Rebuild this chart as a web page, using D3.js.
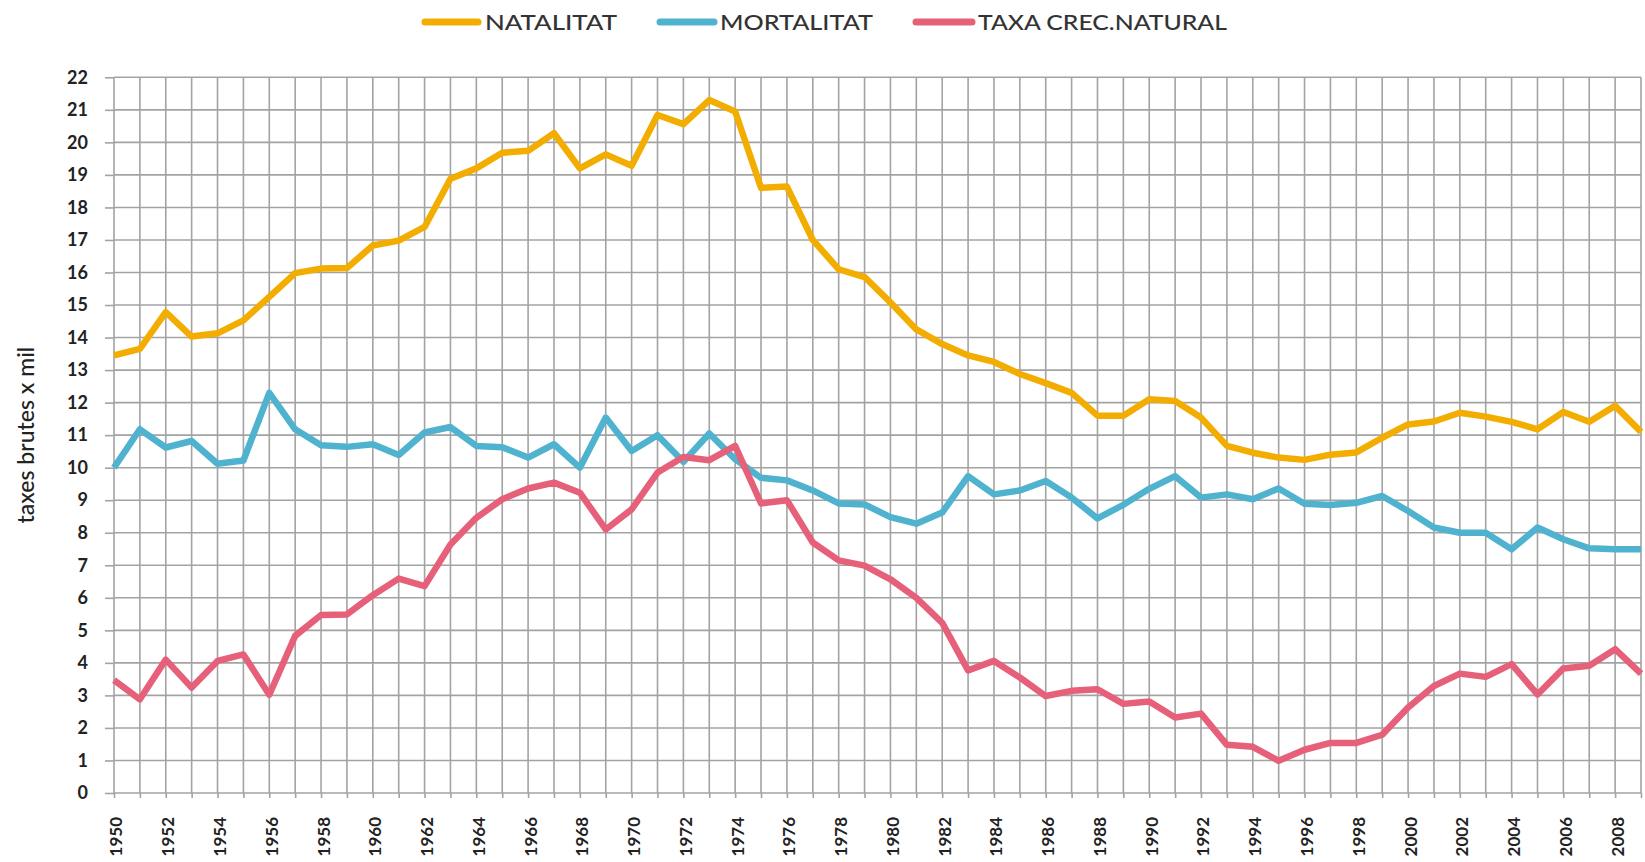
<!DOCTYPE html>
<html>
<head>
<meta charset="utf-8">
<script src="https://cdn.jsdelivr.net/npm/d3@7"></script>
<style>
  html, body { margin: 0; padding: 0; background: #fff; }
  svg { display: block; }
  text { font-family: Lato, "Open Sans", sans-serif; }
</style>
</head>
<body>
<script>
// ---------- DATA ----------
const years = d3.range(1950, 2010);
const seriesNames = ["NATALITAT", "MORTALITAT", "TAXA CREC.NATURAL"];
const natalitat = [13.45,13.65,14.78,14.03,14.13,14.53,15.25,15.98,16.12,16.14,
  16.83,16.98,17.4,18.88,19.2,19.68,19.74,20.28,19.2,19.63,
  19.28,20.84,20.56,21.3,20.95,18.6,18.64,17.0,16.1,15.86,
  15.08,14.25,13.8,13.45,13.25,12.88,12.6,12.3,11.6,11.6,
  12.1,12.05,11.54,10.67,10.46,10.31,10.24,10.4,10.47,10.92,
  11.33,11.42,11.69,11.57,11.41,11.18,11.71,11.41,11.9,11.1];
const mortalitat = [10.0,11.18,10.62,10.82,10.12,10.22,12.3,11.18,10.69,10.64,
  10.72,10.39,11.08,11.25,10.67,10.63,10.31,10.72,10.0,11.54,
  10.51,11.0,10.18,11.05,10.26,9.69,9.61,9.3,8.9,8.87,
  8.48,8.28,8.62,9.74,9.18,9.3,9.59,9.08,8.44,8.86,
  9.35,9.74,9.08,9.18,9.03,9.36,8.89,8.85,8.92,9.13,
  8.67,8.16,8.0,8.0,7.49,8.16,7.8,7.52,7.49,7.49];
const taxaCrec = [3.47,2.88,4.1,3.24,4.06,4.26,3.02,4.83,5.47,5.49,
  6.08,6.59,6.36,7.64,8.46,9.03,9.36,9.54,9.23,8.1,
  8.72,9.85,10.33,10.23,10.67,8.9,9.0,7.7,7.15,6.99,
  6.57,6.0,5.23,3.77,4.06,3.55,2.98,3.14,3.19,2.74,
  2.81,2.32,2.44,1.48,1.42,0.99,1.33,1.54,1.54,1.79,
  2.63,3.29,3.67,3.57,3.96,3.03,3.83,3.91,4.42,3.67];
const yTicks = d3.range(0, 23);
const yTitle = "taxes brutes x mil";

// ---------- LAYOUT ----------
const W = 1645, H = 862;
const plot = { left: 114, right: 1641, top: 77.3, bottom: 793 };
const colors = ["#F3AD00", "#4FB3CF", "#E6607A"];
const gridColor = "#a3a3a3";

const svg = d3.select("body").append("svg").attr("width", W).attr("height", H);

const x = d3.scaleLinear().domain([1950, 2009]).range([plot.left, plot.right]);
const y = d3.scaleLinear().domain([0, 22]).range([plot.bottom, plot.top]);

// gridlines
const grid = svg.append("g");
grid.selectAll("line.h").data(yTicks).join("line")
  .attr("x1", plot.left).attr("x2", plot.right)
  .attr("y1", d => y(d)).attr("y2", d => y(d))
  .attr("stroke", gridColor).attr("stroke-width", 1.6);
grid.selectAll("line.v").data(years).join("line")
  .attr("x1", d => x(d)).attr("x2", d => x(d))
  .attr("y1", plot.top).attr("y2", plot.bottom)
  .attr("stroke", gridColor).attr("stroke-width", 1.6);

// y axis
const yAxis = svg.append("g").attr("transform", `translate(${plot.left},0)`)
  .call(d3.axisLeft(y).tickValues(yTicks).tickSize(9).tickPadding(17).tickFormat(d3.format("d")));
yAxis.select(".domain").remove();
yAxis.selectAll(".tick line").attr("stroke", gridColor).attr("stroke-width", 1.6);
yAxis.selectAll(".tick text").attr("font-size", 18).attr("font-weight", 700).attr("fill", "#222");

// x axis
const xAxis = svg.append("g").attr("transform", `translate(0,${plot.bottom})`)
  .call(d3.axisBottom(x).tickValues(years).tickSize(5).tickFormat(d => d % 2 === 0 ? d : ""));
xAxis.select(".domain").remove();
xAxis.selectAll(".tick line").attr("stroke", gridColor).attr("stroke-width", 1.6);
xAxis.selectAll(".tick text")
  .attr("transform", "rotate(-90)")
  .attr("text-anchor", "end")
  .attr("x", -24).attr("y", 2).attr("dy", "0.35em")
  .attr("font-size", 17).attr("font-weight", 700).attr("fill", "#222");

// y title
svg.append("text")
  .attr("transform", `translate(34,${(plot.top + plot.bottom) / 2}) rotate(-90)`)
  .attr("text-anchor", "middle")
  .attr("font-size", 23).attr("font-weight", 500).attr("fill", "#222")
  .text(yTitle);

// lines
const allSeries = [natalitat, mortalitat, taxaCrec];
const line = d3.line().x((d, i) => x(years[i])).y(d => y(d));
svg.append("g").selectAll("path").data(allSeries).join("path")
  .attr("d", d => line(d))
  .attr("fill", "none")
  .attr("stroke", (d, i) => colors[i])
  .attr("stroke-width", 6.5)
  .attr("stroke-linejoin", "round");

// legend
const legendItems = [
  { x0: 425, x1: 478, tx: 485, tw: 132 },
  { x0: 660, x1: 714, tx: 720, tw: 153 },
  { x0: 916, x1: 972, tx: 978, tw: 249 }
];
const lg = svg.append("g");
legendItems.forEach((it, i) => {
  lg.append("line").attr("x1", it.x0).attr("x2", it.x1).attr("y1", 22).attr("y2", 22)
    .attr("stroke", colors[i]).attr("stroke-width", 7).attr("stroke-linecap", "round");
  lg.append("text").attr("x", it.tx).attr("y", 30)
    .attr("font-size", 22).attr("font-weight", 500).attr("fill", "#333")
    .attr("textLength", it.tw).attr("lengthAdjust", "spacingAndGlyphs")
    .text(seriesNames[i]);
});
</script>
</body>
</html>
